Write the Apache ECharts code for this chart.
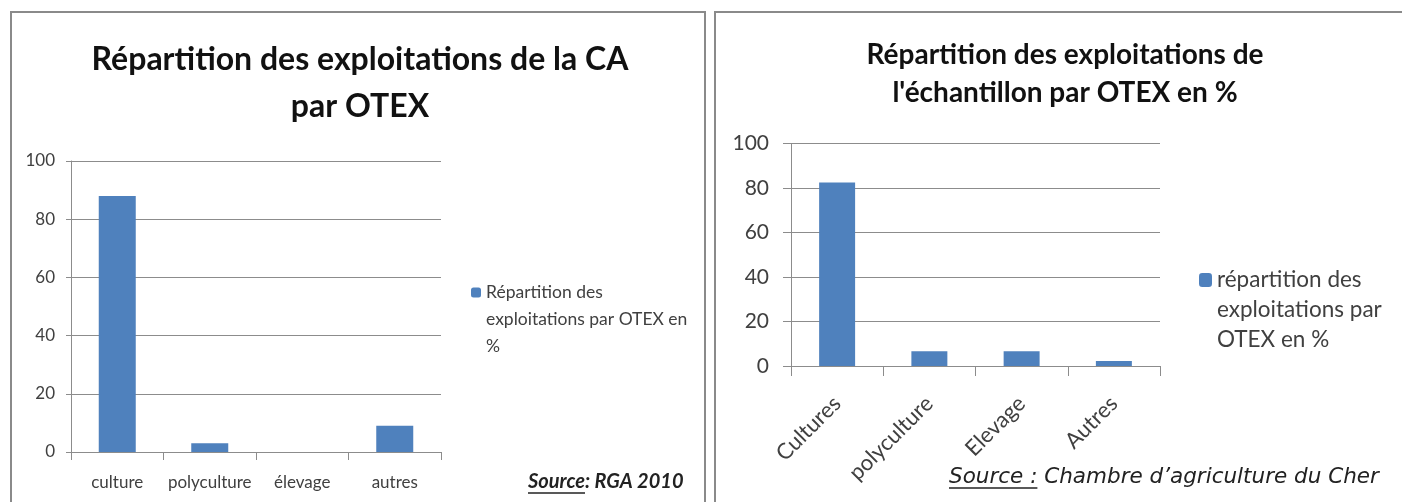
<!DOCTYPE html>
<html>
<head>
<meta charset="utf-8">
<script src="https://cdn.jsdelivr.net/npm/echarts@6/dist/echarts.min.js"></script>
<style>
html, body { margin: 0; padding: 0; background: #fff; }
#main { width: 1402px; height: 502px; }
</style>
</head>
<body>
<div id="main"></div>
<script>
// graphique de gauche (RGA 2010)
var caCategories = ['culture', 'polyculture', 'élevage', 'autres'];
var caValues = [88, 3, 0, 9];
var caSerie = 'Répartition des exploitations par OTEX en %';

// graphique de droite (échantillon)
var echCategories = ['Cultures', 'polyculture', 'Elevage', 'Autres'];
var echValues = [82.5, 6.6, 6.6, 2.2];
var echSerie = 'répartition des exploitations par OTEX en %';

var yMin = 0, yMax = 100, yStep = 20;

var bleu = '#4f81bd';
var gris = '#8c8c8c';
var texte = '#404040';

// largeur d'un texte, pour souligner "Source"
function largeur(txt, font) {
  var ctx = document.createElement('canvas').getContext('2d');
  ctx.font = font;
  return ctx.measureText(txt).width;
}
var fontSrcG = 'italic bold 20px Lato';
var fontSrcD = 'oblique 21.5px "DejaVu Sans"';
var wSrcG = largeur('Source', fontSrcG);
var wSrcD = largeur('Source :', fontSrcD);

var chart = echarts.init(document.getElementById('main'));

// deux lignes vides devant : l'icone se cale sur la premiere ligne du texte
var option = {
  backgroundColor: '#fff',
  animation: false,
  textStyle: { fontFamily: 'Lato' },
  title: [
    {
      text: 'Répartition des exploitations de la CA\npar OTEX',
      left: 360, top: 36, padding: 0, textAlign: 'center',
      textStyle: { fontFamily: 'Lato', fontWeight: 'bold', fontSize: 32, lineHeight: 47, color: '#111' }
    },
    {
      text: "Répartition des exploitations de\nl'échantillon par OTEX en %",
      left: 1065, top: 36, padding: 0, textAlign: 'center',
      textStyle: { fontFamily: 'Lato', fontWeight: 'bold', fontSize: 28, lineHeight: 38, color: '#111' }
    }
  ],
  legend: [
    {
      data: [caSerie], left: 471, top: 225, padding: 0,
      itemWidth: 10, itemHeight: 10,
      formatter: function () { return '\n\nRépartition des\nexploitations par OTEX en\n%'; },
      textStyle: { fontSize: 17.5, lineHeight: 27, color: texte }
    },
    {
      data: [echSerie], left: 1199, top: 205, padding: 0,
      itemWidth: 13, itemHeight: 14,
      formatter: function () { return '\n\nrépartition des\nexploitations par\nOTEX en %'; },
      textStyle: { fontSize: 22.5, lineHeight: 30, color: texte }
    }
  ],
  grid: [
    { left: 71, top: 161, width: 370, height: 291 },
    { left: 791, top: 143.5, width: 369, height: 222.5 }
  ],
  xAxis: [
    {
      type: 'category', gridIndex: 0, data: caCategories,
      axisLine: { lineStyle: { color: gris, width: 1.2 } },
      axisTick: { show: true, length: 8, lineStyle: { color: gris } },
      axisLabel: { fontSize: 17, color: texte, margin: 22, interval: 0 }
    },
    {
      type: 'category', gridIndex: 1, data: echCategories,
      axisLine: { lineStyle: { color: gris, width: 1.2 } },
      axisTick: { show: true, length: 10, lineStyle: { color: gris } },
      axisLabel: { fontSize: 22, color: texte, rotate: 45, margin: 34, interval: 0 }
    }
  ],
  yAxis: [
    {
      type: 'value', gridIndex: 0, min: yMin, max: yMax, interval: yStep,
      axisLine: { show: true, lineStyle: { color: gris } },
      axisTick: { show: true, length: 5, lineStyle: { color: gris } },
      splitLine: { lineStyle: { color: gris, width: 1.2 } },
      axisLabel: { fontSize: 17, color: texte, margin: 16 }
    },
    {
      type: 'value', gridIndex: 1, min: yMin, max: yMax, interval: yStep,
      axisLine: { show: true, lineStyle: { color: gris } },
      axisTick: { show: true, length: 8, lineStyle: { color: gris } },
      splitLine: { lineStyle: { color: gris, width: 1.2 } },
      axisLabel: { fontSize: 21, color: texte, margin: 22 }
    }
  ],
  series: [
    {
      name: caSerie, type: 'bar', xAxisIndex: 0, yAxisIndex: 0,
      data: caValues, barWidth: '40%', itemStyle: { color: bleu }
    },
    {
      name: echSerie, type: 'bar', xAxisIndex: 1, yAxisIndex: 1,
      data: echValues, barWidth: '39%', itemStyle: { color: bleu }
    }
  ],
  graphic: [
    // cadres des deux graphiques
    { type: 'rect', shape: { x: 11, y: 12, width: 694, height: 500 }, style: { fill: null, stroke: '#8a8a8a', lineWidth: 2 }, silent: true },
    { type: 'rect', shape: { x: 715, y: 12, width: 700, height: 500 }, style: { fill: null, stroke: '#8a8a8a', lineWidth: 2 }, silent: true },
    // sources
    { type: 'text', x: 528, y: 482, style: { text: 'Source: RGA 2010', font: fontSrcG, fill: '#222', verticalAlign: 'middle' } },
    { type: 'line', shape: { x1: 528, y1: 493, x2: 528 + wSrcG, y2: 493 }, style: { stroke: '#222', lineWidth: 1.5 } },
    { type: 'text', x: 949, y: 477, style: { text: 'Source : Chambre d’agriculture du Cher', font: fontSrcD, fill: '#222', verticalAlign: 'middle' } },
    { type: 'line', shape: { x1: 949, y1: 488, x2: 949 + wSrcD, y2: 488 }, style: { stroke: '#222', lineWidth: 1.5 } }
  ]
};

chart.setOption(option);
</script>
</body>
</html>
